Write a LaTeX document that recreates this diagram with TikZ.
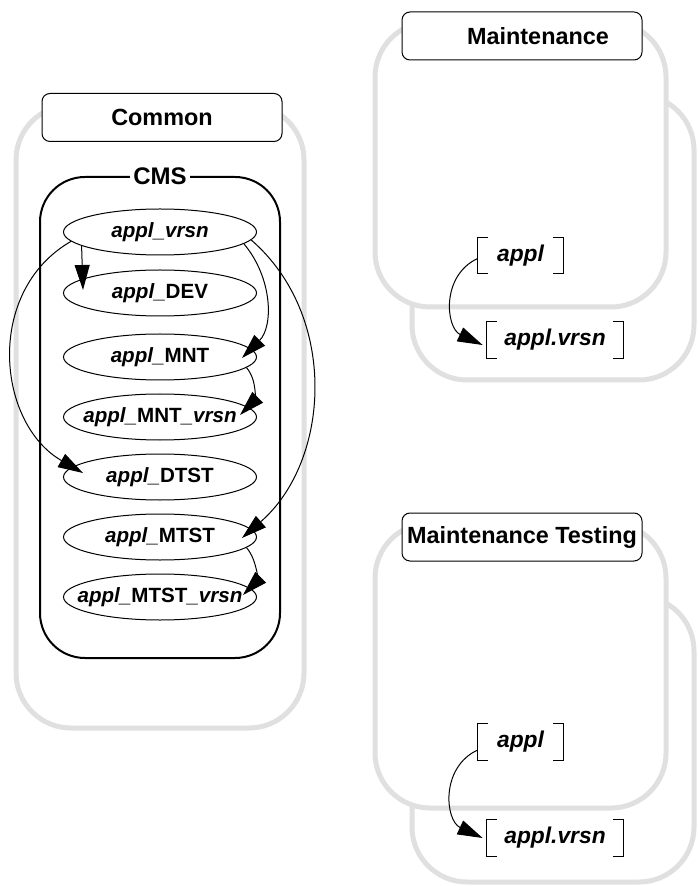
\documentclass[tikz,border=0pt]{standalone}
\usepackage{fontspec}
\setmainfont{Liberation Sans}
\usetikzlibrary{shapes.geometric,arrows.meta}
\definecolor{gris}{HTML}{E0E0E0}
\begin{document}
\begin{tikzpicture}[x=0.5pt, y=-0.5pt]
	\tikzset{cadre/.style={draw=gris, line width=2.5pt, fill=white, rounded corners=27.5pt, inner sep=0},
		titre/.style={draw, fill=white, rounded corners=4pt, line width=.5pt, minimum width=120pt, minimum height=24pt, inner sep=0, font=\fontsize{11.7}{14}\selectfont\bfseries},
		groupe/.style={draw, line width=1pt, rounded corners=22.5pt, minimum width=120pt, minimum height=240.5pt},
		noeud/.style={ellipse, draw, line width=.5pt, minimum width=96.5pt, minimum height=23pt, inner sep=0, font=\fontsize{10.3}{12}\selectfont\bfseries},
		crochet/.style={minimum width=42.5pt, minimum height=18pt, inner sep=0, font=\fontsize{11.4}{13}\selectfont\bfseries\itshape},
		fleche/.style={>={Triangle[length=12.5pt, width=7.5pt]}, ->, line width=.5pt}}

	\useasboundingbox (0,0) rectangle (697,886);

	% Common
	\node[cadre, minimum width=144pt, minimum height=311.5pt] (fc) at (160,416.5) {};
	\node[titre] (tc) at (162,117.5) {Common};
	\node[groupe] (cms) at (160,417.5) {};
	\node[fill=white, inner sep=1.5pt, font=\fontsize{12}{14}\selectfont\bfseries] (cmsl) at (cms.north) {CMS};

	\node[noeud] (vrsn)  at (160,232) {\makebox[0pt]{\itshape appl\_vrsn}};
	\node[noeud] (dev)   at (160,293) {\makebox[0pt]{{\itshape appl\_}DEV}};
	\node[noeud] (mnt)   at (160,357) {\makebox[0pt]{{\itshape appl\_}MNT}};
	\node[noeud] (mntv)  at (160,417) {\makebox[0pt]{{\itshape appl\_}MNT{\itshape\_vrsn}}};
	\node[noeud] (dtst)  at (160,477) {\makebox[0pt]{{\itshape appl\_}DTST}};
	\node[noeud] (mtst)  at (160,537) {\makebox[0pt]{{\itshape appl\_}MTST}};
	\node[noeud] (mtstv) at (160,597) {\makebox[0pt]{{\itshape appl\_}MTST{\itshape\_vrsn}}};

	\draw[fleche] (vrsn.190) to ([shift={(-77,-3)}]dev.center);
	\draw[fleche] (vrsn.-8) to[out=-50, in=45] ([shift={(82,1)}]mnt.center);
	\draw[fleche] (mnt.-7) to[out=-50, in=45] ([shift={(80,-2)}]mntv.center);
	\draw[fleche] (vrsn.186) to[out=210, in=150, looseness=1.1] ([shift={(-77,-4)}]dtst.center);
	\draw[fleche] (vrsn.-5) to[out=-41, in=41] ([shift={(82,1)}]mtst.center);
	\draw[fleche] (mtst.-7) to[out=-50, in=45] ([shift={(83,-2)}]mtstv.center);

	% Maintenance
	\node[cadre, minimum width=141pt, minimum height=142.5pt] (fm2) at (553,237.5) {};
	\node[cadre, minimum width=145.5pt, minimum height=142.5pt] (fm1) at (520.5,164.5) {};
	\node[titre] (tm) at (522,36) {\hspace{16pt}Maintenance};
	\node[crochet] (am)  at (520.5,255.5) {appl};
	\node[crochet, minimum width=68pt] (avm) at (555,340) {appl.vrsn};
	\draw[fleche] ([shift={(0,3)}]am.west) to[out=205, in=155, looseness=1.2] ([shift={(-4,5)}]avm.west);

	% Maintenance Testing
	\node[cadre, minimum width=141pt, minimum height=143pt] (ft2) at (553,739) {};
	\node[cadre, minimum width=145.5pt, minimum height=142.5pt] (ft1) at (520.5,665.5) {};
	\node[titre] (tt) at (522,537) {Maintenance Testing};
	\node[crochet] (amt)  at (520.5,742) {appl};
	\node[crochet, minimum width=68pt] (avmt) at (555,838) {appl.vrsn};
	\draw[fleche] ([shift={(0,8)}]amt.west) to[out=205, in=155, looseness=1.2] ([shift={(-4,0)}]avmt.west);

	\foreach \n in {am,avm,amt,avmt} {
		\draw[line width=.5pt] ([xshift=5pt]\n.north west) -| (\n.south west) -- ++(5pt,0);
		\draw[line width=.5pt] ([xshift=-5pt]\n.north east) -| (\n.south east) -- ++(-5pt,0);
	}
\end{tikzpicture}
\end{document}
